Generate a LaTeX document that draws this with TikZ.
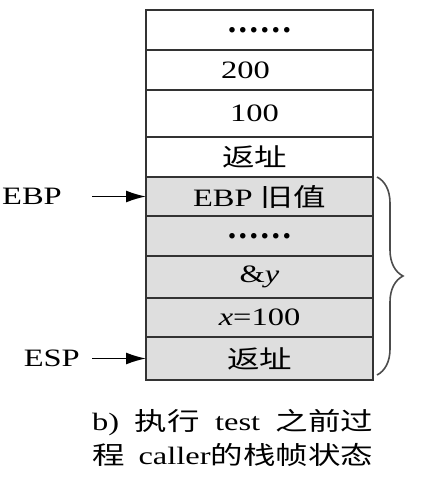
\documentclass[tikz,border=0pt]{standalone}
\usepackage{fontspec}
\setmainfont{Liberation Serif}
\newfontfamily\cjk{Noto Sans CJK SC}
\usetikzlibrary{positioning,arrows.meta,decorations.pathreplacing}
\definecolor{framegray}{RGB}{222,222,222}
\newcommand{\wide}[1]{\scalebox{1.3}[1]{#1}}
\newcommand{\dotsrow}{{\fontsize{34}{34}\selectfont\bfseries .\hspace{2.5pt}.\hspace{2.5pt}.\hspace{2.5pt}.\hspace{2.5pt}.\hspace{2.5pt}.}}
\begin{document}
\begin{tikzpicture} [x=1pt, y=-1pt,
        cell/.style={draw=black!80, rectangle, line width=1.2pt, minimum width=227pt, outer sep=0pt, inner sep=0pt, font=\fontsize{25}{28}\selectfont},
        frame/.style={cell, fill=framegray},
        reg/.style={inner sep=0pt, font=\fontsize{25}{28}\selectfont},
        ptr/.style={-{Latex[length=20pt,width=12pt]}, line width=1.6pt},
        brace/.style={draw=black!70, line width=1.6pt, decorate, decoration={brace, amplitude=26pt}},
        node distance=0pt ]
    \useasboundingbox (0,0) rectangle (422,477);
    \node[cell, minimum height=40pt, anchor=north west] (top) at (146,10) {\dotsrow};
    \node[cell, minimum height=40pt, below=of top] (arg2) {\wide{200}\hspace*{28pt}};
    \node[cell, minimum height=47pt, below=of arg2] (arg1) {\wide{100}\hspace*{10pt}};
    \node[cell, minimum height=40pt, below=of arg1] (ret) {\wide{\cjk 返址}\hspace*{10pt}};
    \node[frame, minimum height=39pt, below=of ret] (ebp) {\wide{EBP {\cjk 旧值}}};
    \node[frame, minimum height=40pt, below=of ebp] (mid) {\dotsrow};
    \node[frame, minimum height=42pt, below=of mid] (addry) {\wide{\&\textit{y}}};
    \node[frame, minimum height=39pt, below=of addry] (varx) {\wide{\textit{x}=100}};
    \node[frame, minimum height=43pt, below=of varx] (esp) {\wide{\cjk 返址}};

    \coordinate (ebptail) at ([xshift=-54pt]ebp.west);
    \coordinate (esptail) at ([xshift=-54pt]esp.west);
    \node[reg, left=30pt of ebptail] (ebplbl) {\wide{EBP}};
    \node[reg, left=12pt of esptail] (esplbl) {\wide{ESP}};
    \draw[ptr] (ebptail) -- (ebp.west);
    \draw[ptr] (esptail) -- (esp.west);

    \draw[brace] ([xshift=4pt]ebp.north east) -- ([xshift=4pt,yshift=5pt]esp.south east);

    \node[reg, anchor=north west, align=left, font=\fontsize{25}{34}\selectfont] (caption) at (92,409)
        {\hbox to 281pt{\wide{b)}\hfill\wide{\cjk 执行}\hfill\wide{test}\hfill\wide{\cjk 之前过}}\\
         \hbox to 281pt{\wide{\cjk 程}\hfill\wide{caller{\cjk 的栈帧状态}}}};
\end{tikzpicture}
\end{document}
